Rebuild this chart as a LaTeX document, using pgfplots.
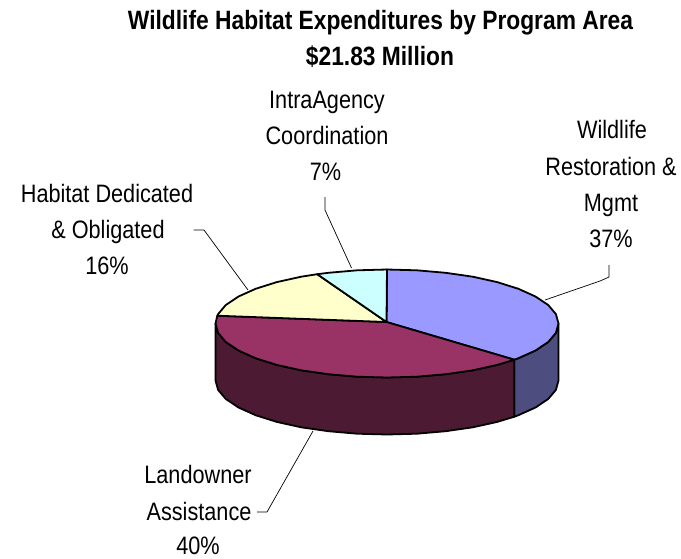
\documentclass[border=0pt]{standalone}
\usepackage{pgfplots}
\pgfplotsset{compat=1.18}
\usepackage{fontspec}
\setmainfont[FakeStretch=0.86]{Liberation Sans}
\definecolor{cblue}{HTML}{9999FF}
\definecolor{cplum}{HTML}{993366}
\definecolor{cyell}{HTML}{FFFFCC}
\definecolor{ccyan}{HTML}{CCFFFF}
\definecolor{sblue}{HTML}{4D4D80}
\definecolor{splum}{HTML}{4D1A33}
\tikzset{lab/.style={anchor=base,inner sep=0pt,font=\fontsize{25.2}{25.2}\selectfont},
ttl/.style={anchor=base,inner sep=0pt,font=\fontsize{26.5}{26.5}\selectfont\bfseries}}
\begin{document}
\begin{tikzpicture}
\useasboundingbox (0,0) rectangle (681pt,558pt);
\begin{axis}[
  at={(0,0)}, anchor=south west,
  scale only axis, width=681pt, height=558pt,
  xmin=0, xmax=681, ymin=0, ymax=558, y dir=reverse,
  hide axis, clip=false,
  every axis plot/.append style={line join=round, black, line width=1.8pt, mark=none},
]
% side walls
\addplot[fill=sblue, draw=black] coordinates {(558.5,323.5)(558.5,380.5)(555.9,389.9)(548.2,399)(535.5,407.5)(518.4,415.2)(514.3,416.7)(514.3,359.7)(518.4,358.2)(535.5,350.5)(548.2,342)(555.9,332.9)} -- cycle;
\addplot[fill=splum, draw=black] coordinates {(514.3,359.7)(514.3,416.7)(497.2,421.9)(472.8,427.3)(445.7,431.2)(416.8,433.7)(387,434.5)(357.2,433.7)(328.3,431.2)(301.2,427.3)(276.8,421.9)(255.6,415.2)(238.5,407.5)(225.8,399)(218.1,389.9)(215.5,380.5)(215.5,323.5)(218.1,332.9)(225.8,342)(238.5,350.5)(255.6,358.2)(276.8,364.9)(301.2,370.3)(328.3,374.2)(357.2,376.7)(387,377.5)(416.8,376.7)(445.7,374.2)(472.8,370.3)(497.2,364.9)} -- cycle;
% top slices
\addplot[fill=cblue, draw=black] coordinates {(386.5,322)(387,269.5)(416.8,270.3)(445.7,272.8)(472.8,276.7)(497.2,282.1)(518.4,288.8)(535.5,296.5)(548.2,305)(555.9,314.1)(558.5,323.5)(555.9,332.9)(548.2,342)(535.5,350.5)(518.4,358.2)(514.3,359.7)} -- cycle;
\addplot[fill=cplum, draw=black] coordinates {(386.5,322)(514.3,359.7)(497.2,364.9)(472.8,370.3)(445.7,374.2)(416.8,376.7)(387,377.5)(357.2,376.7)(328.3,374.2)(301.2,370.3)(276.8,364.9)(255.6,358.2)(238.5,350.5)(225.8,342)(218.1,332.9)(215.5,323.5)(217.3,315.7)} -- cycle;
\addplot[fill=cyell, draw=black] coordinates {(386.5,322)(217.3,315.7)(218.1,314.1)(225.8,305)(238.5,296.5)(255.6,288.8)(276.8,282.1)(301.2,276.7)(317.2,274.2)} -- cycle;
\addplot[fill=ccyan, draw=black] coordinates {(386.5,322)(317.2,274.2)(328.3,272.8)(357.2,270.3)(387,269.5)} -- cycle;
% leader lines
\addplot[line width=0.7pt] coordinates {(325,197)(325,210)(351.5,268)};
\addplot[line width=0.7pt] coordinates {(193.5,230)(204,230)(248,290)};
\addplot[line width=0.7pt] coordinates {(609,265)(609,277)(600,281)(545,300)};
\addplot[line width=0.7pt] coordinates {(313,431)(267,512)(257,512)};
% text
\node[ttl] at (axis cs:380.5,29) {Wildlife Habitat Expenditures by Program Area};
\node[ttl] at (axis cs:380,65) {\$21.83 Million};
\node[lab] at (axis cs:327,108) {IntraAgency};
\node[lab] at (axis cs:327,144) {Coordination};
\node[lab] at (axis cs:325.5,180) {7\%};
\node[lab] at (axis cs:612,138) {Wildlife};
\node[lab] at (axis cs:611,175) {Restoration \&};
\node[lab] at (axis cs:611,211) {Mgmt};
\node[lab] at (axis cs:611,247) {37\%};
\node[lab] at (axis cs:107,202) {Habitat Dedicated};
\node[lab] at (axis cs:108,238) {\& Obligated};
\node[lab] at (axis cs:107,274) {16\%};
\node[lab] at (axis cs:198,483) {Landowner};
\node[lab] at (axis cs:199,520) {Assistance};
\node[lab] at (axis cs:198,554) {40\%};
\end{axis}
\end{tikzpicture}
\end{document}
